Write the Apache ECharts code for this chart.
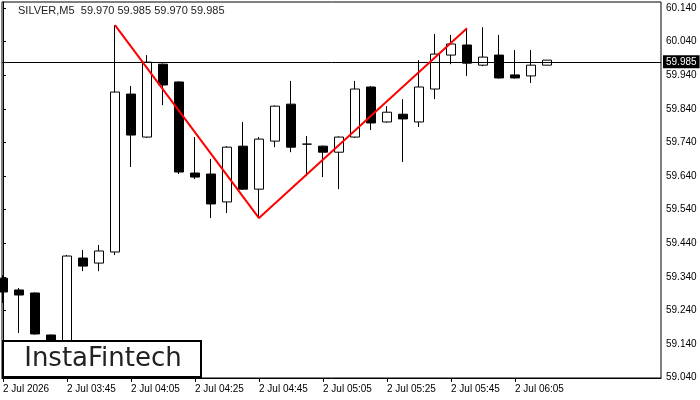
<!DOCTYPE html>
<html><head><meta charset="utf-8">
<script src="https://cdn.jsdelivr.net/npm/echarts@6/dist/echarts.min.js"></script>
<style>html,body{margin:0;padding:0;background:#fff}#c{width:700px;height:400px}</style>
</head><body><div id="c"></div>
<script>
// M5 candles from 2 Jul 03:25 to 06:15
const times = ['03:25','03:30','03:35','03:40','03:45','03:50','03:55','04:00','04:05','04:10',
  '04:15','04:20','04:25','04:30','04:35','04:40','04:45','04:50','04:55','05:00',
  '05:05','05:10','05:15','05:20','05:25','05:30','05:35','05:40','05:45','05:50',
  '05:55','06:00','06:05','06:10','06:15'];
const opens  = [59.336,59.301,59.292,59.167,59.130,59.396,59.381,59.414,59.884,59.756,
  59.973,59.920,59.649,59.646,59.563,59.729,59.601,59.744,59.854,59.735,
  59.729,59.711,59.756,59.905,59.801,59.824,59.801,59.899,60.000,60.030,
  59.970,60.000,59.941,59.938,59.970];
const closes = [59.295,59.286,59.170,59.130,59.402,59.372,59.417,59.890,59.762,59.979,
  59.911,59.652,59.637,59.557,59.726,59.601,59.750,59.848,59.726,59.735,
  59.711,59.756,59.899,59.798,59.830,59.810,59.905,60.003,60.033,59.976,
  59.994,59.932,59.932,59.970,59.985];
const lows   = [59.262,59.173,59.168,59.110,59.100,59.357,59.357,59.405,59.667,59.754,
  59.851,59.646,59.631,59.515,59.530,59.599,59.515,59.726,59.711,59.640,
  59.637,59.601,59.754,59.777,59.799,59.682,59.786,59.869,59.973,59.938,
  59.967,59.930,59.930,59.917,59.970];
const highs  = [59.345,59.307,59.294,59.168,59.405,59.420,59.435,60.089,59.908,60.000,
  59.975,59.922,59.756,59.691,59.729,59.801,59.756,59.850,59.923,59.759,
  59.731,59.758,59.923,59.908,59.848,59.869,59.985,60.063,60.060,60.080,
  60.083,60.060,60.015,60.015,59.985];
// x-axis tick labels (candle index -> label)
const tickIdx = [0,4,8,12,16,20,24,28,32];
const tickLabels = ['2 Jul 2026','2 Jul 03:45','2 Jul 04:05','2 Jul 04:25','2 Jul 04:45',
  '2 Jul 05:05','2 Jul 05:25','2 Jul 05:45','2 Jul 06:05'];
// y-axis tick values
const yTicks = [59.04,59.14,59.24,59.34,59.44,59.54,59.64,59.74,59.84,59.94,60.04,60.14];
// double-top pattern points [candle index, price]
const patternX = [7,16,29];
const patternY = [60.089,59.515,60.080];
const lastPrice = 59.985;
const title = 'SILVER,M5  59.970 59.985 59.970 59.985';

const candleData = times.map((t,i)=>[i,opens[i],closes[i],lows[i],highs[i]]);
const patternData = patternX.map((x,i)=>[x,patternY[i]]);

const FONT = 'Liberation Sans';
const chart = echarts.init(document.getElementById('c'));
chart.setOption({
  animation:false,
  backgroundColor:'#fff',
  grid:{left:2,right:39,top:2,bottom:22,show:true,borderColor:'#000',borderWidth:1,backgroundColor:'transparent'},
  xAxis:{type:'value',min:-0.0625,max:41.125,
    axisLine:{show:true,lineStyle:{color:'#000',width:1}},
    axisTick:{show:true,length:4,lineStyle:{color:'#000'},customValues:tickIdx},
    axisLabel:{show:true,customValues:tickIdx,color:'#000',fontFamily:FONT,fontSize:10,margin:6,align:'left',
      formatter:(v)=>{const k=tickIdx.indexOf(Math.round(v));return k>=0?tickLabels[k]:'';}},
    splitLine:{show:false}},
  yAxis:{type:'value',position:'right',min:59.039,max:60.158,
    axisLine:{show:true,lineStyle:{color:'#000',width:1}},
    axisTick:{show:true,length:3,lineStyle:{color:'#000'},customValues:yTicks},
    axisLabel:{show:true,customValues:yTicks,color:'#000',fontFamily:FONT,fontSize:10,margin:5,
      formatter:(v)=>v.toFixed(3)},
    splitLine:{show:false}},
  series:[
    {type:'candlestick',data:candleData,encode:{x:0,y:[1,2,3,4]},barWidth:10,
      itemStyle:{color:'#fff',color0:'#000',borderColor:'#000',borderColor0:'#000',borderColorDoji:'#000',borderWidth:1},
      markLine:{silent:true,symbol:['none','none'],animation:false,
        lineStyle:{color:'#000',width:1,type:'solid'},
        label:{position:'end',distance:2,formatter:lastPrice.toFixed(3),backgroundColor:'#000',color:'#fff',
          fontFamily:FONT,fontSize:10,padding:[2,3,1,3]},
        emphasis:{disabled:true},
        data:[{yAxis:lastPrice}]}},
    {type:'line',data:patternData,symbol:'none',lineStyle:{color:'#ff0000',width:2},z:5,silent:true}
  ],
  graphic:[
    {type:'text',left:18,top:5,style:{text:title,fill:'#222',font:'11px '+FONT}},
    {type:'rect',shape:{x:3,y:341,width:198,height:36},style:{fill:'#fff',stroke:'#000',lineWidth:2},z:100},
    {type:'text',x:103,y:359,style:{text:'InstaFintech',fill:'#222',font:'26px "DejaVu Sans"',align:'center',verticalAlign:'middle'},z:101}
  ]
});
</script></body></html>
